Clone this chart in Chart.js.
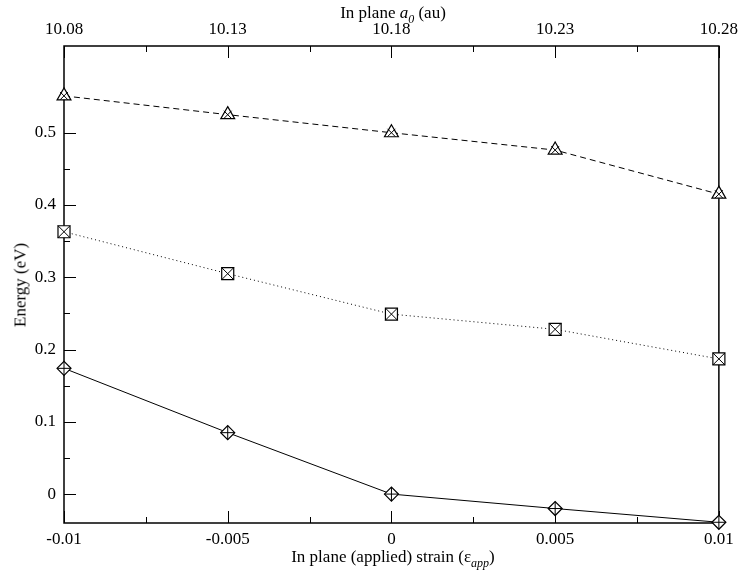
<!DOCTYPE html>
<html>
<head>
<meta charset="utf-8">
<script src="https://cdn.jsdelivr.net/npm/chart.js@4.4.0/dist/chart.umd.min.js"></script>
<style>
  html, body { margin: 0; padding: 0; background: #fff; }
  #wrap { position: relative; width: 744px; height: 570px; }
  canvas { display: block; }
  .titulo {
    position: absolute;
    font-family: 'Liberation Serif', 'DejaVu Serif', serif;
    font-size: 17px;
    color: #000;
    white-space: nowrap;
    line-height: 1;
    transform: translate(-50%, -50%);
  }
  .titulo sub { font-size: 12px; vertical-align: -5px; line-height: 0; }
</style>
</head>
<body>
<div id="wrap">
  <canvas id="grafica" width="744" height="570"></canvas>
  <div class="titulo" style="left:393px; top:12px;">In plane <i>a</i><sub><i>0</i></sub> (au)</div>
  <div class="titulo" style="left:393px; top:556px;">In plane (applied) strain (ε<sub><i>app</i></sub>)</div>
  <div class="titulo" style="left:20px; top:285px; transform: translate(-50%, -50%) rotate(-90deg);">Energy (eV)</div>
</div>
<script>
// Datos
const STRAIN = [-0.01, -0.005, 0, 0.005, 0.01];
const ENERGIA_TRIANGULO = [0.551, 0.525, 0.500, 0.476, 0.415];
const ENERGIA_CUADRADO = [0.363, 0.305, 0.249, 0.228, 0.187];
const ENERGIA_ROMBO = [0.174, 0.085, 0.000, -0.020, -0.039];

// Etiquetas de los ejes
const X_TICKS = [-0.01, -0.005, 0, 0.005, 0.01];
const X2_TICKS = [10.08, 10.13, 10.18, 10.23, 10.28];
const Y_TICKS = [0, 0.1, 0.2, 0.3, 0.4, 0.5];

const FUENTE = { family: "'Liberation Serif', 'DejaVu Serif', serif", size: 17 };

const puntos = (ys) => STRAIN.map((x, i) => ({ x, y: ys[i] }));

function serie(ys, estilo, radio, dash) {
  return {
    data: puntos(ys),
    showLine: true,
    borderColor: '#000',
    borderWidth: 1,
    borderDash: dash,
    pointStyle: estilo,
    pointRadius: radio,
    pointBorderColor: '#000',
    pointBackgroundColor: '#fff',
    pointBorderWidth: 1.2,
    clip: false,
    order: 2
  };
}

function cruz(ys, estilo, radio) {
  return {
    data: puntos(ys),
    showLine: false,
    pointStyle: estilo,
    pointRadius: radio,
    pointBorderColor: '#000',
    pointBorderWidth: 1,
    clip: false,
    order: 1
  };
}

// Marco y ticks hacia adentro (estilo xmgrace)
const marcoPlugin = {
  id: 'marco',
  beforeDatasetsDraw(chart) {
    const { ctx, chartArea: a, scales } = chart;
    ctx.save();
    ctx.strokeStyle = '#000';
    ctx.lineWidth = 1.5;
    ctx.strokeRect(a.left, a.top, a.right - a.left, a.bottom - a.top);

    ctx.lineWidth = 1;
    const mayor = 12, menor = 6;
    const linea = (x1, y1, x2, y2) => { ctx.beginPath(); ctx.moveTo(x1, y1); ctx.lineTo(x2, y2); ctx.stroke(); };

    const ejeX = (escala, valores, y, dir) => {
      valores.forEach((v, i) => {
        const px = Math.round(escala.getPixelForValue(v)) + 0.5;
        linea(px, y, px, y + dir * mayor);
        if (i < valores.length - 1) {
          const pm = Math.round(escala.getPixelForValue((v + valores[i + 1]) / 2)) + 0.5;
          linea(pm, y, pm, y + dir * menor);
        }
      });
    };
    ejeX(scales.x, X_TICKS, a.bottom, -1);
    ejeX(scales.x2, X2_TICKS, a.top, 1);

    Y_TICKS.forEach((v) => {
      const py = Math.round(scales.y.getPixelForValue(v)) + 0.5;
      linea(a.left, py, a.left + mayor, py);
      const pm = Math.round(scales.y.getPixelForValue(v + 0.05)) + 0.5;
      if (pm > a.top) linea(a.left, pm, a.left + menor, pm);
    });
    ctx.restore();
  }
};

new Chart(document.getElementById('grafica'), {
  type: 'scatter',
  data: {
    datasets: [
      serie(ENERGIA_TRIANGULO, 'triangle', 8, [6, 4]),
      cruz(ENERGIA_TRIANGULO, 'crossRot', 5.5),
      serie(ENERGIA_CUADRADO, 'rect', 8.5, [1, 3]),
      cruz(ENERGIA_CUADRADO, 'crossRot', 8.5),
      serie(ENERGIA_ROMBO, 'rectRot', 7, []),
      cruz(ENERGIA_ROMBO, 'cross', 7)
    ]
  },
  options: {
    responsive: false,
    animation: false,
    devicePixelRatio: 1,
    layout: { padding: { left: 0, right: 22, top: 0, bottom: 0 } },
    plugins: { legend: { display: false }, tooltip: { enabled: false } },
    scales: {
      x: {
        type: 'linear',
        position: 'bottom',
        min: -0.01,
        max: 0.01,
        afterBuildTicks: (s) => { s.ticks = X_TICKS.map((value) => ({ value })); },
        afterFit: (s) => { s.height = 47; },
        grid: { display: false, drawTicks: false },
        border: { display: false },
        ticks: { padding: 6, color: '#000', font: FUENTE, maxRotation: 0,
                 callback: (v) => String(+Number(v).toFixed(4)) }
      },
      x2: {
        type: 'linear',
        position: 'top',
        min: 10.08,
        max: 10.28,
        afterBuildTicks: (s) => { s.ticks = X2_TICKS.map((value) => ({ value })); },
        afterFit: (s) => { s.height = 46; },
        grid: { display: false, drawTicks: false },
        border: { display: false },
        ticks: { padding: 6, color: '#000', font: FUENTE, maxRotation: 0,
                 callback: (v) => Number(v).toFixed(2) }
      },
      y: {
        type: 'linear',
        min: -0.04,
        max: 0.62,
        afterBuildTicks: (s) => { s.ticks = Y_TICKS.map((value) => ({ value })); },
        afterFit: (s) => { s.width = 64; },
        grid: { display: false, drawTicks: false },
        border: { display: false },
        ticks: { padding: 8, color: '#000', font: FUENTE,
                 callback: (v) => String(+Number(v).toFixed(2)) }
      }
    }
  },
  plugins: [marcoPlugin]
});
</script>
</body>
</html>
